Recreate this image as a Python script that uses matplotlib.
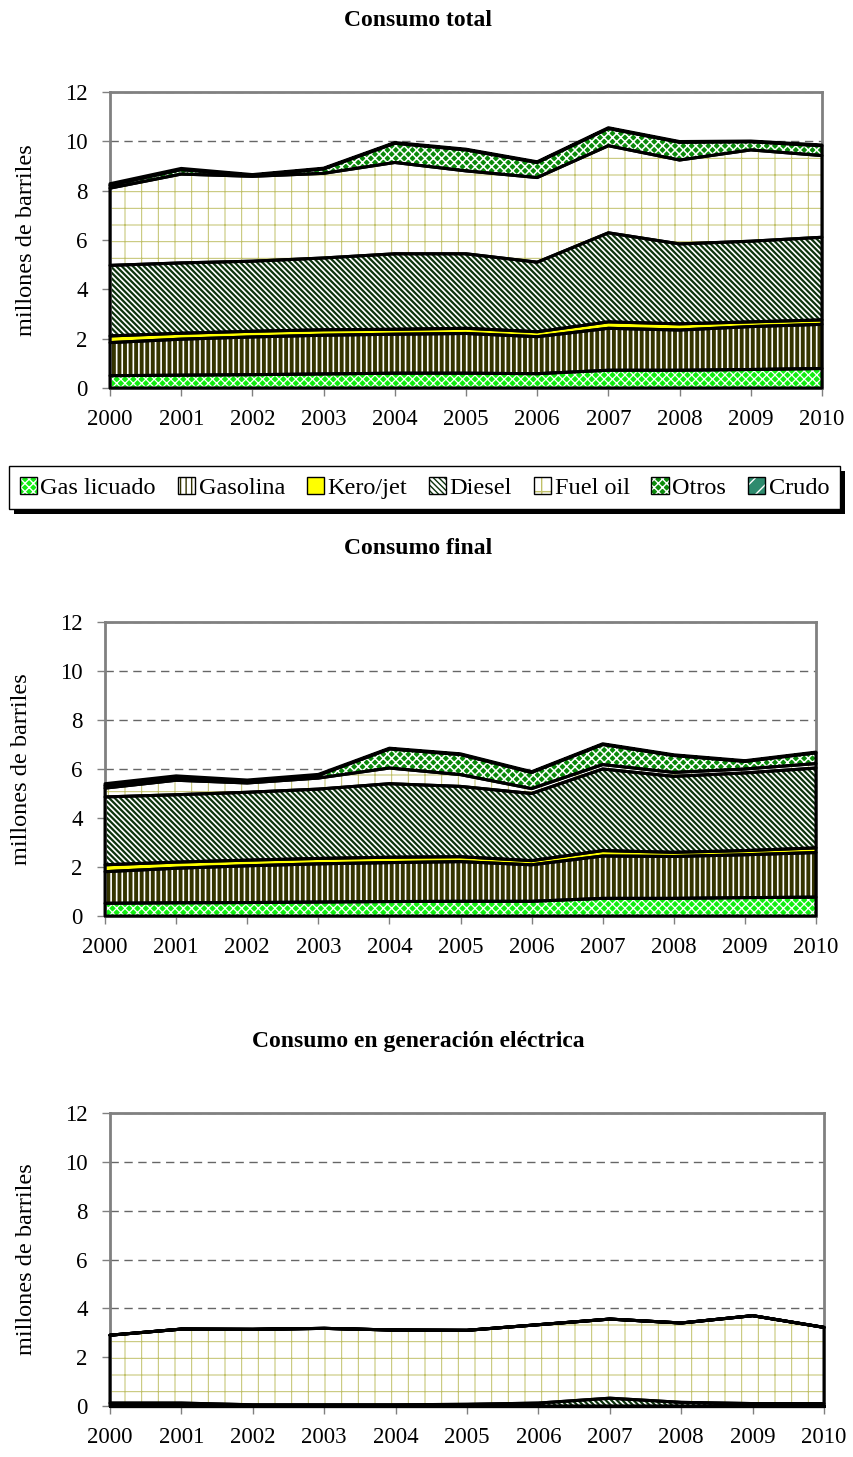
import numpy as np
import matplotlib.pyplot as plt
from matplotlib.patches import Patch, Rectangle
from matplotlib.legend_handler import HandlerTuple

plt.rcParams['font.family'] = ['Liberation Serif', 'DejaVu Serif']

years = list(range(2000, 2011))
series_names = ["Gas licuado", "Gasolina", "Kero/jet", "Diesel", "Fuel oil", "Otros", "Crudo"]

# Consumo total (millones de barriles, per series)
total_gas_licuado = [0.50, 0.52, 0.54, 0.57, 0.60, 0.60, 0.58, 0.72, 0.72, 0.75, 0.79]
total_gasolina = [1.34, 1.46, 1.53, 1.57, 1.58, 1.61, 1.50, 1.70, 1.63, 1.74, 1.79]
total_kero = [0.27, 0.24, 0.23, 0.22, 0.20, 0.21, 0.20, 0.26, 0.25, 0.19, 0.18]
total_diesel = [2.86, 2.85, 2.84, 2.91, 3.06, 3.02, 2.82, 3.61, 3.24, 3.27, 3.35]
total_fuel = [3.13, 3.60, 3.44, 3.43, 3.70, 3.36, 3.43, 3.53, 3.40, 3.70, 3.31]
total_otros = [0.12, 0.18, 0.04, 0.18, 0.78, 0.85, 0.61, 0.70, 0.72, 0.33, 0.40]
total_crudo = [0.06, 0.05, 0.03, 0.03, 0.03, 0.03, 0.03, 0.03, 0.03, 0.03, 0.03]

# Consumo final
final_gas_licuado = [0.52, 0.54, 0.55, 0.57, 0.59, 0.60, 0.60, 0.72, 0.72, 0.75, 0.77]
final_gasolina = [1.29, 1.41, 1.50, 1.56, 1.59, 1.62, 1.49, 1.73, 1.71, 1.75, 1.82]
final_kero = [0.28, 0.25, 0.23, 0.22, 0.22, 0.20, 0.17, 0.22, 0.17, 0.17, 0.19]
final_diesel = [2.77, 2.75, 2.77, 2.83, 3.00, 2.87, 2.74, 3.33, 3.10, 3.17, 3.26]
final_fuel = [0.36, 0.59, 0.38, 0.45, 0.64, 0.48, 0.20, 0.18, 0.16, 0.16, 0.18]
final_otros = [0.10, 0.09, 0.07, 0.11, 0.78, 0.82, 0.66, 0.82, 0.69, 0.31, 0.44]
final_crudo = [0.08, 0.09, 0.05, 0.04, 0.03, 0.03, 0.03, 0.03, 0.03, 0.03, 0.03]

# Consumo en generacion electrica
gen_gas_licuado = [0] * 11
gen_gasolina = [0] * 11
gen_kero = [0] * 11
gen_diesel = [0.12, 0.12, 0.05, 0.05, 0.05, 0.07, 0.12, 0.32, 0.15, 0.10, 0.10]
gen_fuel = [2.78, 3.03, 3.09, 3.13, 3.06, 3.03, 3.21, 3.24, 3.25, 3.60, 3.12]
gen_otros = [0] * 11
gen_crudo = [0] * 11

# face colour, hatch colour, hatch, hatch linewidth
styles = [
    ('#12ee12', 'white', 'xxxx', 0.9),
    ('white', '#333300', '|||', 2.8),
    ('#ffff00', '#ffff00', '', 1.0),
    ('white', '#0c330c', '\\' * 6, 1.6),
    ('white', '#c0c068', '+', 0.7),
    ('#0a8a0a', 'white', 'xxxx', 1.1),
    ('#2e8b6e', 'white', '//', 1.0),
]


def hatch_lw(artist, lw):
    # keep a per-artist hatch line width
    if hasattr(artist, 'set_hatch_linewidth'):
        artist.set_hatch_linewidth(lw)
    orig = artist.draw

    def draw(renderer, *args, **kwargs):
        with plt.rc_context({'hatch.linewidth': lw}):
            return orig(renderer, *args, **kwargs)
    artist.draw = draw


def stacked(ax, layers, title, title_y):
    base = np.zeros(len(years))
    tops = []
    for vals, (fc, hc, hatch, hlw) in zip(layers, styles):
        top = base + np.array(vals)
        with plt.rc_context({'hatch.linewidth': hlw}):
            coll = ax.fill_between(years, base, top, facecolor=fc, edgecolor=hc,
                                   hatch=hatch, linewidth=0, zorder=2)
        hatch_lw(coll, hlw)
        tops.append((base.copy(), top))
        base = top
    for lo, hi in tops:
        ax.fill_between(years, lo, hi, facecolor='none', edgecolor='black',
                        linewidth=2.2, zorder=3, clip_on=False)
    ax.set_xlim(2000, 2010)
    ax.set_ylim(0, 12)
    ax.set_xticks(years)
    ax.set_yticks(range(0, 13, 2))
    ax.yaxis.grid(True, color='#666666', linestyle=(0, (6, 4)), linewidth=1)
    ax.set_axisbelow(True)
    for s in ax.spines.values():
        s.set_color('#808080')
        s.set_linewidth(2)
    ax.tick_params(direction='out', length=6, width=1, colors='#808080',
                   labelcolor='black', labelsize=16.5)
    ax.tick_params(axis='x', pad=9)
    ax.tick_params(axis='y', pad=10)
    ax.set_ylabel('millones de barriles', fontsize=17.5, labelpad=20)
    fig.text(0.49, title_y, title, ha='center', va='center',
             fontsize=17, fontweight='bold')


fig = plt.figure(figsize=(8.54, 14.57), dpi=100)

ax1 = fig.add_axes([0.1288, 0.7337, 0.8337, 0.2032])
stacked(ax1, [total_gas_licuado, total_gasolina, total_kero, total_diesel,
              total_fuel, total_otros, total_crudo], 'Consumo total', 1 - 20 / 1457)

ax2 = fig.add_axes([0.1230, 0.3713, 0.8325, 0.2018])
stacked(ax2, [final_gas_licuado, final_gasolina, final_kero, final_diesel,
              final_fuel, final_otros, final_crudo], 'Consumo final', 1 - 548 / 1457)

ax3 = fig.add_axes([0.1288, 0.0350, 0.8361, 0.2011])
stacked(ax3, [gen_gas_licuado, gen_gasolina, gen_kero, gen_diesel,
              gen_fuel, gen_otros, gen_crudo], 'Consumo en generación eléctrica',
        1 - 1042 / 1457)

handles = []
for name, (fc, hc, hatch, hlw) in zip(series_names, styles):
    with plt.rc_context({'hatch.linewidth': min(hlw, 1.5)}):
        fill = Patch(facecolor=fc, edgecolor=hc, hatch=hatch, linewidth=0)
    hatch_lw(fill, min(hlw, 1.5))
    border = Patch(facecolor='none', edgecolor='black', linewidth=1)
    handles.append((fill, border))
leg = fig.legend(handles=handles, labels=series_names, loc='center',
                 bbox_to_anchor=(0.497, 0.6654),
                 handler_map={tuple: HandlerTuple(ndivide=1, pad=0)},
                 ncol=7, fontsize=17.5, frameon=True, fancybox=False,
                 framealpha=1, facecolor='white',
                 edgecolor='black', handlelength=0.7, handleheight=0.7,
                 handletextpad=0.15, columnspacing=0.9, borderpad=0.45,
                 borderaxespad=0)
leg.get_frame().set_linewidth(1)
leg.set_zorder(5)

fig.canvas.draw()
bb = leg.get_window_extent().transformed(fig.transFigure.inverted())
dx = 5 / 854
dy = 5 / 1457
fig.patches.append(Rectangle((bb.x0 + dx, bb.y0 - dy), bb.width, bb.height,
                             transform=fig.transFigure, facecolor='black',
                             edgecolor='none', zorder=4))

fig.savefig('out.png', dpi=100)
